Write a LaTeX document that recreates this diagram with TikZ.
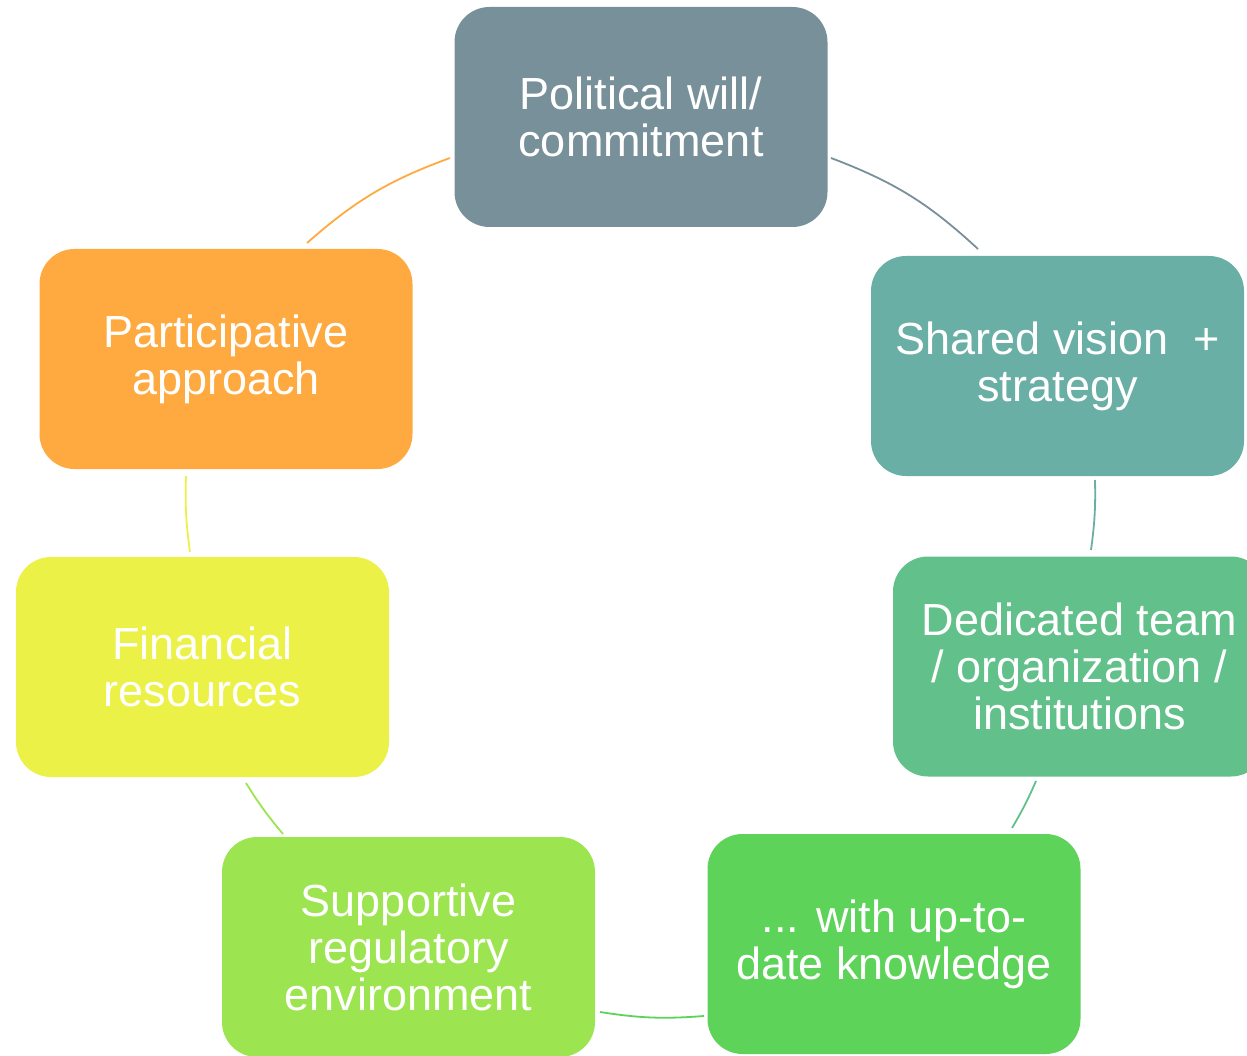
\documentclass[tikz,border=0pt]{standalone}
\usepackage{fontspec}
\setmainfont{Liberation Sans}
\definecolor{cPol}{RGB}{120,144,153}
\definecolor{cSha}{RGB}{106,175,165}
\definecolor{cDed}{RGB}{98,192,138}
\definecolor{cKno}{RGB}{94,211,89}
\definecolor{cSup}{RGB}{157,229,80}
\definecolor{cFin}{RGB}{236,241,72}
\definecolor{cPar}{RGB}{255,170,64}
\tikzset{
  box/.style={rectangle, rounded corners=35pt, minimum width=373pt, minimum height=220pt,
    inner sep=0pt, text=white, align=center, font=\fontsize{45}{47}\selectfont},
  link/.style={line width=1.8pt}
}
\begin{document}
\begin{tikzpicture}[x=1pt,y=1pt]
\useasboundingbox (0,0) rectangle (1247,-1056);
\begin{scope}
\clip (0,0) rectangle (1247,-1056);
\node[box, fill=cPol] (pol) at (641,-117) {Political will/\\commitment};
\node[box, fill=cSha] (sha) at (1057.5,-366) {Shared vision\ \ +\\strategy};
\node[box, fill=cDed] (ded) at (1079.5,-666.5) {Dedicated team\\/ organization /\\institutions};
\node[box, fill=cKno] (kno) at (894,-944) {... with up-to-\\date knowledge};
\node[box, fill=cSup] (sup) at (408.5,-947) {Supportive\\regulatory\\environment};
\node[box, fill=cFin] (fin) at (202.5,-667) {Financial\\resources};
\node[box, fill=cPar] (par) at (226,-359) {Participative\\approach};
\end{scope}
\coordinate (a1) at (831,-158); \coordinate (b1) at (978,-249);
\coordinate (a2) at (1095,-480); \coordinate (b2) at (1091,-550);
\coordinate (a3) at (1036,-781); \coordinate (b3) at (1012,-828);
\coordinate (a4) at (704,-1016); \coordinate (b4) at (600,-1012);
\coordinate (a5) at (283,-834); \coordinate (b5) at (246,-783);
\coordinate (a6) at (190,-552); \coordinate (b6) at (186,-476);
\coordinate (a7) at (307,-243); \coordinate (b7) at (450,-158);
\draw[link, cPol] (a1) to[bend left=11] (b1);
\draw[link, cSha] (a2) to[bend left=4.5] (b2);
\draw[link, cDed] (a3) to[bend left=3.5] (b3);
\draw[link, cKno] (a4) to[bend left=6.6] (b4);
\draw[link, cSup] (a5) to[bend left=4] (b5);
\draw[link, cFin] (a6) to[bend left=4.8] (b6);
\draw[link, cPar] (a7) to[bend left=10.6] (b7);
\end{tikzpicture}
\end{document}
